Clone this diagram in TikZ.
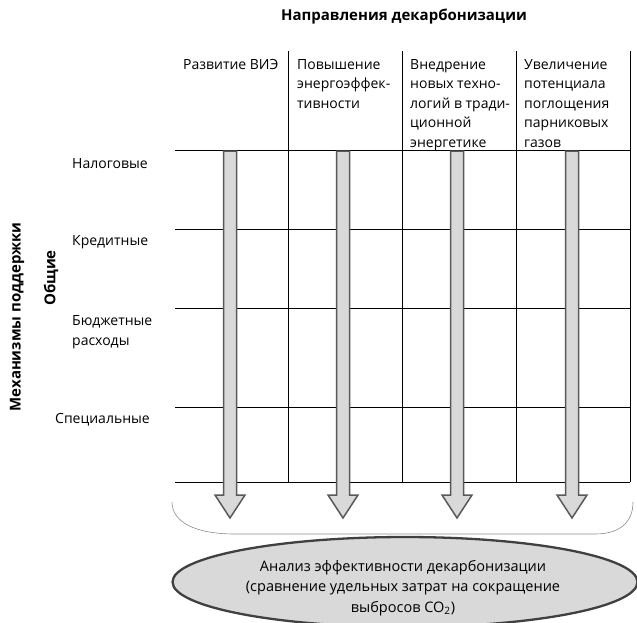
\documentclass[tikz,border=0pt]{standalone}
\usepackage{fontspec}
\setmainfont{Open Sans}
\usetikzlibrary{shapes.geometric,calc}
\definecolor{arrfill}{HTML}{D9D9D9}
\definecolor{arrline}{HTML}{595959}
\definecolor{ellline}{HTML}{404040}
\begin{document}
\begin{tikzpicture}[x=1pt,y=-1pt,font=\fontsize{14}{19.5}\selectfont,
  gridline/.style={draw=black,line width=0.9pt},
  headtxt/.style={anchor=north west,inner sep=0pt,align=left},
  rowtxt/.style={anchor=base west,inner sep=0pt,align=left},
  boldtxt/.style={font=\fontsize{15}{20}\selectfont\bfseries},
  bigarrow/.style={draw=arrline,fill=arrfill,line width=1.5pt,line join=miter},
  bracecurve/.style={draw=black!45,line width=0.6pt},
  result/.style={ellipse,draw=ellline,fill=arrfill,line width=2.3pt,minimum width=465pt,minimum height=90pt,inner sep=0pt}]
\useasboundingbox (0,0) rectangle (637,622);
% title
\node[boldtxt] (title) at (404,17) {Направления декарбонизации};
% side labels
\node[rotate=90,boldtxt] (mech) at (17,317) {Механизмы поддержки};
\node[rotate=90,boldtxt] (gen) at (51,278) {Общие};
% grid
\foreach \y in {150,229,308,407,482} \draw[gridline] (175,\y) -- (630,\y);
\foreach \x in {288,402,516,630} \draw[gridline] (\x,51) -- (\x,482);
% headers
\node[headtxt] (h1) at (183,59) {Развитие ВИЭ};
\node[headtxt] (h2) at (297,59) {Повышение\\энергоэффек-\\тивности};
\node[headtxt] (h3) at (410,59) {Внедрение\\новых техно-\\логий в тради-\\ционной\\энергетике};
\node[headtxt] (h4) at (524,59) {Увеличение\\потенциала\\поглощения\\парниковых\\газов};
% row labels
\node[rowtxt] (r1) at (72,168) {Налоговые};
\node[rowtxt] (r2) at (72,245) {Кредитные};
\node[rowtxt] (r3) at (72,325) {Бюджетные};
\node[rowtxt] (r3b) at (72,345) {расходы};
\node[rowtxt] (r4) at (55,423) {Специальные};
% arrows
\foreach \i/\x in {1/230,2/343,3/457,4/572}{
  \coordinate (t\i) at (\x,151);
  \coordinate (b\i) at (\x,518);
  \draw[bigarrow] ($(t\i)+(-6.5,0)$) -- ($(t\i)+(6.5,0)$) -- ($(b\i)+(6.5,-23)$) -- ($(b\i)+(15,-23)$)
     -- (b\i) -- ($(b\i)+(-15,-23)$) -- ($(b\i)+(-6.5,-23)$) -- cycle;
}
% brace
\coordinate (bl) at (172,502);
\coordinate (br) at (633,502);
\draw[bracecurve] (bl) .. controls (172,522) and (195,534) .. (235,534) -- (595,534)
   .. controls (620,534) and (633,522) .. (br);
% result ellipse
\node[result] (res) at (405,582) {};
\node[align=center,inner sep=0pt,font=\fontsize{14.5}{20.5}\selectfont] (restxt) at (403,588) {Анализ эффективности декарбонизации\\(сравнение удельных затрат на сокращение\\выбросов CO\textsubscript{2})};
\end{tikzpicture}
\end{document}
